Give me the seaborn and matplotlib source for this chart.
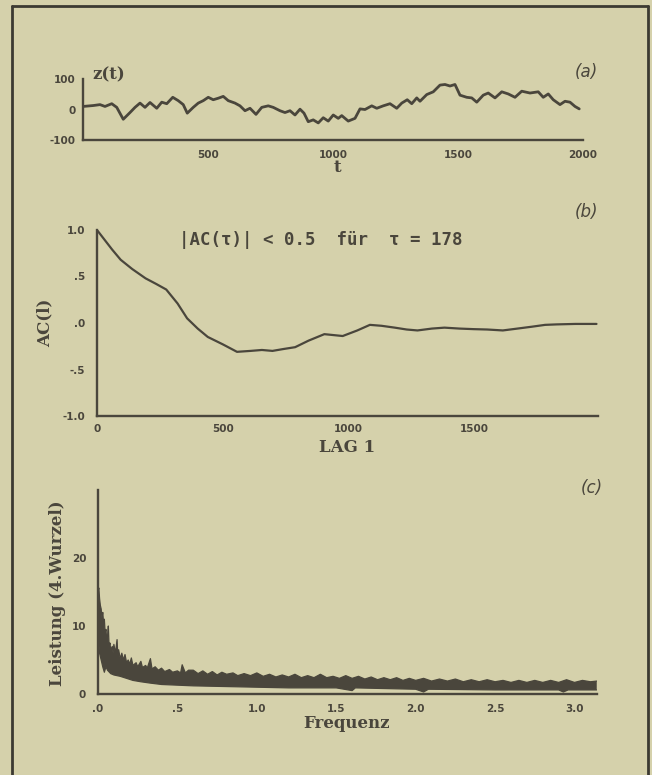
import numpy as np
import pandas as pd
import matplotlib
matplotlib.use("Agg")
import matplotlib.pyplot as plt
from matplotlib.lines import Line2D
from matplotlib.ticker import MultipleLocator, FixedLocator, FixedFormatter
import seaborn as sns

# ---------------- data ----------------
t_vals = [0, 41, 68, 88, 115, 135, 161, 188, 208, 228, 248, 268, 295, 315, 335, 359, 381,
          401, 417, 441, 461, 481, 501, 521, 541, 561, 581, 608, 628, 648, 668, 692, 715,
          741, 761, 788, 808, 828, 848, 868, 884, 901, 921, 941, 961, 981, 1001, 1021,
          1035, 1061, 1088, 1108, 1128, 1155, 1175, 1201, 1228, 1255, 1275, 1297, 1315,
          1335, 1348, 1375, 1401, 1428, 1448, 1468, 1488, 1508, 1535, 1555, 1575, 1601,
          1621, 1648, 1675, 1701, 1728, 1755, 1788, 1821, 1841, 1861, 1881, 1908, 1928,
          1948, 1968, 1985]
z_vals = [10, 13, 16, 10, 19, 7, -32, -10, 7, 21, 7, 23, 4, 24, 19, 40, 29,
          16, -12, 7, 21, 29, 40, 32, 37, 43, 29, 21, 12, -4, 4, -16, 7,
          12, 7, -4, -10, -4, -18, 1, -12, -40, -34, -44, -27, -38, -18, -29,
          -20, -38, -29, 2, 0, 12, 4, 12, 19, 4, 21, 32, 19,
          38, 27, 49, 58, 80, 82, 77, 82, 47, 40, 38, 24, 47,
          54, 38, 58, 51, 40, 60, 54, 58, 40, 51, 32, 16, 27,
          24, 10, 2]

lag_vals = [0, 20, 40, 60, 94, 140, 193, 235, 275, 320, 358, 400, 440, 500, 556, 610,
            655, 697, 740, 787, 840, 903, 976, 1034, 1084, 1130, 1183, 1230, 1273, 1330,
            1380, 1440, 1496, 1550, 1612, 1670, 1727, 1780, 1826, 1900, 1984]
ac_vals = [1.0, 0.93, 0.86, 0.79, 0.68, 0.58, 0.48, 0.42, 0.36, 0.21, 0.05, -0.06,
           -0.15, -0.23, -0.31, -0.30, -0.29, -0.30, -0.28, -0.26, -0.19, -0.12, -0.14,
           -0.08, -0.02, -0.03, -0.05, -0.07, -0.08, -0.06, -0.05, -0.06, -0.066, -0.07,
           -0.08, -0.06, -0.04, -0.02, -0.015, -0.01, -0.01]

# upper and lower edges of the dense spectrum band
freq_upper = [0.0, 0.005, 0.01, 0.015, 0.02, 0.025, 0.03, 0.035, 0.04, 0.045, 0.05, 0.055,
              0.06, 0.065, 0.07, 0.075, 0.08, 0.09, 0.095, 0.10, 0.11, 0.12, 0.125, 0.13,
              0.14, 0.15, 0.16, 0.17, 0.18, 0.19, 0.20, 0.21, 0.22, 0.24, 0.25, 0.27,
              0.28, 0.30, 0.31, 0.33, 0.34, 0.36, 0.38, 0.40, 0.42, 0.45, 0.47, 0.50,
              0.52, 0.53, 0.55, 0.57, 0.60, 0.63, 0.66, 0.69, 0.72, 0.75, 0.78, 0.81,
              0.85, 0.88, 0.92, 0.96, 1.00, 1.04, 1.08, 1.12, 1.16, 1.20, 1.24, 1.28,
              1.32, 1.36, 1.40, 1.44, 1.48, 1.52, 1.56, 1.60, 1.64, 1.68, 1.72, 1.76,
              1.80, 1.84, 1.88, 1.92, 1.96, 2.00, 2.05, 2.10, 2.15, 2.20, 2.25, 2.30,
              2.35, 2.40, 2.45, 2.50, 2.55, 2.60, 2.65, 2.70, 2.75, 2.80, 2.85, 2.90,
              2.95, 3.00, 3.05, 3.10, 3.14]
power_upper = [15.0, 15.6, 14.0, 13.0, 12.5, 11.2, 12.0, 10.5, 11.0, 9.0, 9.5, 8.0,
               8.5, 10.0, 7.0, 7.5, 6.5, 7.0, 6.0, 7.3, 6.0, 8.0, 5.5, 6.5,
               5.2, 6.0, 5.0, 5.8, 4.6, 5.0, 4.4, 5.3, 4.2, 4.6, 4.0, 4.8,
               3.9, 4.2, 3.8, 5.2, 3.7, 4.0, 3.5, 3.8, 3.3, 3.6, 3.2, 3.4,
               3.1, 4.3, 3.1, 3.5, 3.5, 3.0, 3.4, 2.9, 3.3, 2.8, 3.2, 2.9,
               3.1, 2.7, 3.0, 2.7, 3.1, 2.6, 2.9, 2.5, 2.8, 2.5, 2.9, 2.4,
               2.7, 2.4, 2.9, 2.4, 2.6, 2.3, 2.7, 2.3, 2.6, 2.2, 2.5, 2.1,
               2.4, 2.1, 2.4, 2.0, 2.3, 2.0, 2.3, 1.9, 2.2, 1.9, 2.2, 1.8,
               2.1, 1.8, 2.1, 1.8, 2.0, 1.7, 2.0, 1.7, 2.0, 1.7, 2.0, 1.7,
               2.1, 1.7, 2.0, 1.8, 1.9]
freq_lower = [0.0, 0.005, 0.01, 0.02, 0.03, 0.04, 0.05, 0.06, 0.08, 0.10, 0.14, 0.18,
              0.22, 0.27, 0.33, 0.40, 0.50, 0.60, 0.80, 1.00, 1.20, 1.50, 1.60, 1.62,
              2.00, 2.05, 2.08, 2.50, 2.90, 2.93, 2.96, 3.14]
power_lower = [8.0, 7.5, 6.0, 5.0, 4.0, 3.2, 4.0, 3.5, 3.0, 2.8, 2.6, 2.3,
               2.0, 1.8, 1.6, 1.4, 1.3, 1.2, 1.1, 1.0, 0.9, 0.9, 0.5, 0.9,
               0.7, 0.3, 0.7, 0.6, 0.6, 0.3, 0.6, 0.6]

# ---------------- style ----------------
BG = "#d5d1ab"
INK = "#4a463c"
sns.set_theme(style="white")
plt.rcParams.update({
    "figure.facecolor": BG,
    "axes.facecolor": BG,
    "savefig.facecolor": BG,
    "axes.edgecolor": INK,
    "axes.linewidth": 1.7,
    "xtick.color": INK,
    "ytick.color": INK,
    "text.color": INK,
})
plt.rcParams["font.family"] = ["DejaVu Sans"]

W, H = 652, 775
fig = plt.figure(figsize=(W / 100, H / 100), dpi=100)


def ax_at(x0, x1, ytop, ybot):
    return fig.add_axes([x0 / W, 1 - ybot / H, (x1 - x0) / W, (ybot - ytop) / H])


labfont = dict(family="DejaVu Serif", fontweight="bold", fontsize=12, color=INK)
tagfont = dict(family="DejaVu Sans", style="italic", fontsize=12, color=INK)


def style_axes(ax):
    sns.despine(ax=ax)
    ax.set_xlabel("")
    ax.set_ylabel("")
    ax.tick_params(which="major", direction="inout", length=5, width=1.2, pad=3)
    ax.tick_params(which="minor", direction="in", length=3, width=1.0)
    for lab in ax.get_xticklabels() + ax.get_yticklabels():
        lab.set_fontsize(7.5)
        lab.set_fontweight("bold")


# ---- (a) time series ----
axa = ax_at(83, 583, 79, 140)
sns.lineplot(x=t_vals, y=z_vals, ax=axa, color=INK, lw=2.0)
axa.set_xlim(0, 2000)
axa.set_ylim(-100, 100)
axa.xaxis.set_major_locator(FixedLocator([500, 1000, 1500, 2000]))
axa.xaxis.set_minor_locator(MultipleLocator(100))
axa.yaxis.set_major_locator(FixedLocator([-100, 0, 100]))
axa.yaxis.set_minor_locator(FixedLocator([-50, 50]))
axa.yaxis.set_major_formatter(FixedFormatter(["-100", "0", "100"]))
style_axes(axa)
axa.tick_params(axis="x", pad=5)

fig.text(109 / W, 1 - 75 / H, "z(t)", ha="center", va="center", **labfont)
fig.text(586 / W, 1 - 72 / H, "(a)", ha="center", va="center", **tagfont)
fig.text(337 / W, 1 - 168 / H, "t", ha="center", va="center", **labfont)

# ---- (b) autocorrelation ----
axb = ax_at(97, 598, 230, 416)
sns.lineplot(x=lag_vals, y=ac_vals, ax=axb, color=INK, lw=1.6)
axb.set_xlim(0, 1990)
axb.set_ylim(-1, 1)
axb.xaxis.set_major_locator(FixedLocator([0, 500, 1000, 1500]))
axb.xaxis.set_minor_locator(MultipleLocator(100))
axb.yaxis.set_major_locator(FixedLocator([-1.0, -0.5, 0.0, 0.5, 1.0]))
axb.yaxis.set_major_formatter(FixedFormatter(["-1.0", "-.5", ".0", ".5", "1.0"]))
axb.yaxis.set_minor_locator(MultipleLocator(0.25))
style_axes(axb)
axb.tick_params(axis="y", pad=6)

fig.text(586 / W, 1 - 212 / H, "(b)", ha="center", va="center", **tagfont)
fig.text(321 / W, 1 - 240 / H, "|AC(\u03c4)| < 0.5  f\u00fcr  \u03c4 = 178",
         ha="center", va="center", family="DejaVu Sans Mono", fontweight="bold",
         fontsize=12.5, color=INK)
fig.text(45 / W, 1 - 323 / H, "AC(l)", ha="center", va="center", rotation=90, **labfont)
fig.text(347 / W, 1 - 447 / H, "LAG 1", ha="center", va="center", **labfont)

# ---- (c) power spectrum ----
axc = ax_at(98, 597, 490, 694)
poly_f = np.r_[freq_upper, freq_lower[::-1]]
poly_p = np.r_[power_upper, power_lower[::-1]]
axc.fill(poly_f, poly_p, color=INK, lw=0)
sns.lineplot(x=freq_upper, y=power_upper, ax=axc, color=INK, lw=0.9)
sns.lineplot(x=freq_lower, y=power_lower, ax=axc, color=INK, lw=0.9)
axc.set_xlim(0, np.pi)
axc.set_ylim(0, 30)
axc.xaxis.set_major_locator(FixedLocator([0, 0.5, 1.0, 1.5, 2.0, 2.5, 3.0]))
axc.xaxis.set_major_formatter(FixedFormatter([".0", ".5", "1.0", "1.5", "2.0", "2.5", "3.0"]))
axc.xaxis.set_minor_locator(MultipleLocator(0.1))
axc.yaxis.set_major_locator(FixedLocator([0, 10, 20]))
axc.yaxis.set_minor_locator(FixedLocator([5, 15, 25]))
style_axes(axc)
axc.tick_params(axis="y", pad=6)
axc.tick_params(axis="x", pad=5)

fig.text(592 / W, 1 - 488 / H, "(c)", ha="center", va="center", **tagfont)
fig.text(58 / W, 1 - 593 / H, "Leistung (4.Wurzel)", ha="center", va="center",
         rotation=90, **labfont)
fig.text(347 / W, 1 - 723 / H, "Frequenz", ha="center", va="center", **labfont)

# ---- outer frame ----
frame_kw = dict(color="#3c3a32", lw=2.0, transform=fig.transFigure)
fig.add_artist(Line2D([12 / W, 12 / W], [0, 1 - 6 / H], **frame_kw))
fig.add_artist(Line2D([12 / W, 648 / W], [1 - 6 / H, 1 - 6 / H], **frame_kw))
fig.add_artist(Line2D([648 / W, 648 / W], [0, 1 - 6 / H], **frame_kw))

fig.savefig("out.png", dpi=100)
